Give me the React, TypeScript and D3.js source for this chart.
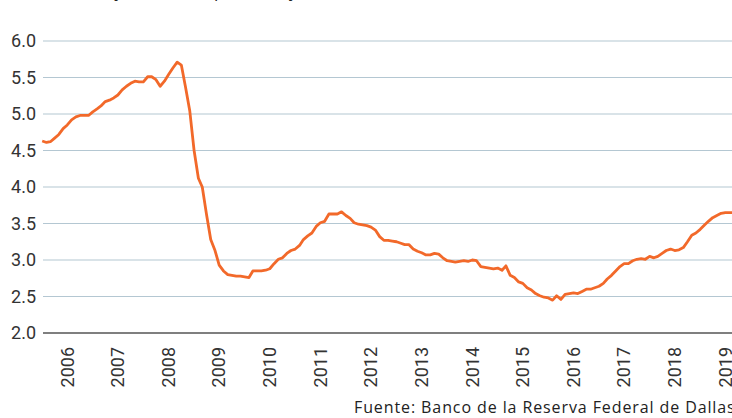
import { useEffect, useRef } from 'react'
import * as d3 from 'd3'

// Monthly series, first point is January 2006
const startDate = new Date(2006, 0, 1)
const rate = [
  4.63, 4.61, 4.62, 4.67, 4.72, 4.80, 4.85, 4.92, 4.96, 4.98, 4.98, 4.98,
  5.03, 5.07, 5.11, 5.17, 5.19, 5.22, 5.26, 5.33, 5.38, 5.42, 5.45, 5.44,
  5.44, 5.51, 5.51, 5.47, 5.38, 5.45, 5.54, 5.63, 5.71, 5.67, 5.36, 5.04,
  4.50, 4.12, 4.00, 3.62, 3.28, 3.13, 2.93, 2.85, 2.80, 2.79, 2.78, 2.78,
  2.77, 2.76, 2.85, 2.85, 2.85, 2.86, 2.88, 2.95, 3.01, 3.03, 3.09, 3.13,
  3.15, 3.20, 3.28, 3.33, 3.37, 3.46, 3.51, 3.53, 3.63, 3.63, 3.63, 3.66,
  3.61, 3.57, 3.51, 3.49, 3.48, 3.47, 3.45, 3.41, 3.32, 3.27, 3.27, 3.26,
  3.25, 3.23, 3.21, 3.21, 3.15, 3.12, 3.10, 3.07, 3.07, 3.09, 3.08, 3.03,
  2.99, 2.98, 2.97, 2.98, 2.99, 2.98, 3.00, 2.99, 2.91, 2.90, 2.89, 2.88,
  2.89, 2.86, 2.92, 2.79, 2.76, 2.70, 2.68, 2.62, 2.59, 2.54, 2.51, 2.49,
  2.48, 2.45, 2.51, 2.46, 2.53, 2.54, 2.55, 2.54, 2.57, 2.60, 2.60, 2.62,
  2.64, 2.68, 2.74, 2.79, 2.85, 2.91, 2.95, 2.95, 2.99, 3.01, 3.02, 3.01,
  3.05, 3.03, 3.05, 3.09, 3.13, 3.15, 3.13, 3.14, 3.17, 3.25, 3.34, 3.37,
  3.42, 3.48, 3.53, 3.58, 3.61, 3.64, 3.65, 3.65, 3.65,
]
const yTicks = [2.0, 2.5, 3.0, 3.5, 4.0, 4.5, 5.0, 5.5, 6.0]
const years = d3.range(2006, 2020)
const subtitle = '(Tasa anual ajustada, en porcentaje)'
const source = 'Fuente: Banco de la Reserva Federal de Dallas'

const W = 732
const H = 418

export default function App() {
  const ref = useRef<SVGSVGElement>(null)

  useEffect(() => {
    const svg = d3.select(ref.current)
    svg.selectAll('*').remove()

    const left = 43
    const right = W
    const x = d3
      .scaleTime()
      .domain([startDate, new Date(2019, 6, 1)])
      .range([42.2, 725.3])
    const y = d3.scaleLinear().domain([2, 6]).range([333, 41])

    const data = rate.map((v, i) => ({ date: d3.timeMonth.offset(startDate, i), v }))

    // subtitle, cut off at the top (only descenders show)
    svg
      .append('text')
      .attr('x', 4)
      .attr('y', -3)
      .attr('font-family', 'Open Sans')
      .attr('font-size', 17)
      .attr('letter-spacing', 0.6)
      .attr('fill', '#222')
      .text(subtitle)

    // gridlines + y labels
    const g = svg.append('g')
    g.selectAll('line.grid')
      .data(yTicks.filter(t => t !== 2))
      .join('line')
      .attr('x1', left)
      .attr('x2', right)
      .attr('y1', d => y(d))
      .attr('y2', d => y(d))
      .attr('stroke', '#b4c7d2')
      .attr('stroke-width', 1.2)

    g.selectAll('text.ylab')
      .data(yTicks)
      .join('text')
      .attr('x', 36)
      .attr('y', d => y(d))
      .attr('dy', '0.35em')
      .attr('text-anchor', 'end')
      .attr('font-family', 'Roboto')
      .attr('font-size', 18)
      .attr('fill', '#333')
      .text(d => d.toFixed(1))

    // baseline
    svg
      .append('line')
      .attr('x1', left)
      .attr('x2', right)
      .attr('y1', y(2))
      .attr('y2', y(2))
      .attr('stroke', '#555')
      .attr('stroke-width', 1.5)

    // year labels, rotated
    svg
      .append('g')
      .selectAll('text')
      .data(years)
      .join('text')
      .attr('transform', d => `translate(${x(new Date(d, 6, 1))},347) rotate(-90)`)
      .attr('text-anchor', 'end')
      .attr('dy', '0.35em')
      .attr('font-family', 'Roboto')
      .attr('font-size', 18)
      .attr('fill', '#333')
      .text(d => String(d))

    // line
    const line = d3
      .line<{ date: Date; v: number }>()
      .x(d => x(d.date))
      .y(d => y(d.v))
    svg
      .append('path')
      .datum(data)
      .attr('d', line)
      .attr('fill', 'none')
      .attr('stroke', '#f2692a')
      .attr('stroke-width', 2.8)
      .attr('stroke-linejoin', 'round')

    svg
      .append('text')
      .attr('x', 354)
      .attr('y', 413)
      .attr('font-family', 'Open Sans')
      .attr('font-size', 16)
      .attr('letter-spacing', 0.9)
      .attr('fill', '#222')
      .text(source)
  }, [])

  return (
    <svg
      ref={ref}
      width={W}
      height={H}
      style={{ position: 'absolute', left: 0, top: 0, background: '#fff' }}
    />
  )
}
